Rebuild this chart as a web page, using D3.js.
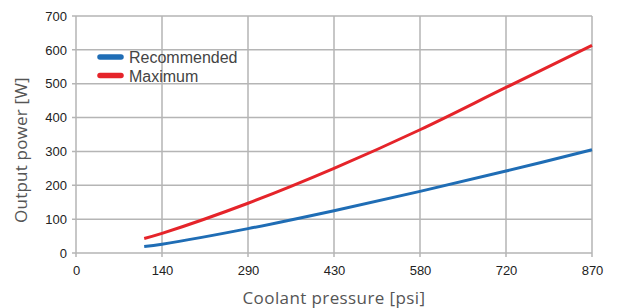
<!DOCTYPE html>
<html>
<head>
<meta charset="utf-8">
<script src="https://cdn.jsdelivr.net/npm/d3@7"></script>
<style>
  body { margin: 0; background: #fff; }
  svg { display: block; }
</style>
</head>
<body>
<svg id="chart"></svg>
<script>
// data (x in psi)
const pressure = [115, 145, 290, 435, 580, 725, 870];
const recommended = [19, 26, 72, 125, 182, 242, 305];
const maximum = [43, 58, 147, 250, 364, 489, 613];
const xTicks = [0, 145, 290, 435, 580, 725, 870];
const xTickLabels = ['0', '140', '290', '430', '580', '720', '870'];
const yTicks = [0, 100, 200, 300, 400, 500, 600, 700];
const seriesNames = ['Recommended', 'Maximum'];
const seriesColors = ['#1f6db5', '#e5242a'];

const width = 623, height = 308;
const margin = { top: 16, right: 31, bottom: 55, left: 76 };
const w = width - margin.left - margin.right;
const h = height - margin.top - margin.bottom;

const svg = d3.select('#chart')
    .attr('width', width)
    .attr('height', height);

const g = svg.append('g').attr('transform', `translate(${margin.left},${margin.top})`);

//scales
const x = d3.scaleLinear().domain([0, 870]).range([0, w]);
const y = d3.scaleLinear().domain([0, 700]).range([h, 0]);

//grid
g.append('g').selectAll('line')
    .data(xTicks)
    .join('line')
    .attr('x1', d => x(d)).attr('x2', d => x(d))
    .attr('y1', 0).attr('y2', h + 4)
    .attr('stroke', '#b5b5b5')
    .attr('stroke-width', 1.5);
g.append('g').selectAll('line')
    .data(yTicks)
    .join('line')
    .attr('x1', -4).attr('x2', w)
    .attr('y1', d => y(d)).attr('y2', d => y(d))
    .attr('stroke', '#b5b5b5')
    .attr('stroke-width', 1.5);

//axes
const xAxis = d3.axisBottom(x).tickValues(xTicks)
    .tickFormat((d, i) => xTickLabels[i]).tickSize(0).tickPadding(13);
const yAxis = d3.axisLeft(y).tickValues(yTicks).tickSize(0).tickPadding(9);
const gx = g.append('g').attr('transform', `translate(0,${h})`).call(xAxis);
const gy = g.append('g').call(yAxis);
[gx, gy].forEach(a => {
    a.select('.domain').remove();
    a.selectAll('text')
        .attr('fill', '#222')
        .style('font-family', '"Liberation Sans", Arial, sans-serif')
        .style('font-size', '13px');
});

//lines
const line = vals => d3.line()
    .x((d, i) => x(pressure[i]))
    .y(d => y(d))
    .curve(d3.curveCatmullRom.alpha(0.5))(vals);

[recommended, maximum].forEach((vals, k) => {
    g.append('path')
        .attr('d', line(vals))
        .attr('fill', 'none')
        .attr('stroke', seriesColors[k])
        .attr('stroke-width', 3);
});

//legend
const legend = svg.append('g').attr('transform', 'translate(98,57)');
seriesNames.forEach((name, i) => {
    const row = legend.append('g').attr('transform', `translate(0,${i * 18.5})`);
    row.append('line')
        .attr('x1', 2).attr('x2', 23)
        .attr('stroke', seriesColors[i])
        .attr('stroke-width', 5.5)
        .attr('stroke-linecap', 'round');
    row.append('text')
        .attr('x', 31).attr('y', 6)
        .attr('fill', '#444')
        .style('font-family', '"Liberation Sans", Arial, sans-serif')
        .style('font-size', '16px')
        .text(name);
});

//axis titles
svg.append('text')
    .attr('x', margin.left + w / 2)
    .attr('y', 304)
    .attr('text-anchor', 'middle')
    .attr('fill', '#555')
    .style('font-family', '"Open Sans", sans-serif')
    .style('font-size', '17px')
    .style('letter-spacing', '0.4px')
    .text('Coolant pressure [psi]');
svg.append('text')
    .attr('transform', 'translate(27,150) rotate(-90)')
    .attr('text-anchor', 'middle')
    .attr('fill', '#555')
    .style('font-family', '"Open Sans", sans-serif')
    .style('font-size', '17px')
    .style('letter-spacing', '0.2px')
    .text('Output power [W]');
</script>
</body>
</html>
